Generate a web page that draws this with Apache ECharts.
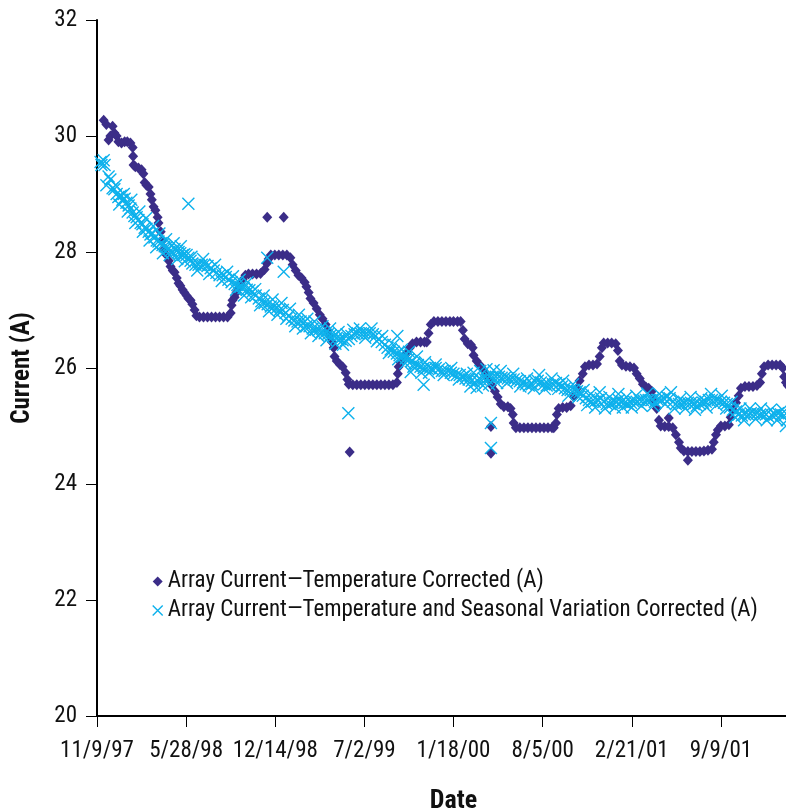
<!DOCTYPE html>
<html>
<head>
<meta charset="utf-8">
<script src="https://cdn.jsdelivr.net/npm/echarts@6/dist/echarts.min.js"></script>
<style>
  html, body { margin: 0; padding: 0; background: #fff; overflow: hidden; }
  /* the date axis runs on past the right edge of the page */
  #chart { width: 810px; height: 810px; }
</style>
</head>
<body>
<div id="chart"></div>
<script>
// Day 0 of the date axis is 11/9/97; x values are days since then.
const startDateUTC = Date.UTC(1997, 10, 9);
const dateTickStepDays = 200;
const dateAxisMaxDays = 1600;
const currentTicks = [20, 22, 24, 26, 28, 30, 32];

const seriesNames = [
  'Array Current\u2014Temperature Corrected (A)',
  'Array Current\u2014Temperature and Seasonal Variation Corrected (A)'
];

// [days since 11/9/97, current in A]
const tempCorrected = [
  [15,30.27],[21,30.2],[26,29.93],[30,30.0],[35,30.17],[39,30.05],[44,30.0],[48,29.9],[55,29.88],[62,29.9],
  [68,29.9],[75,29.88],[80,29.8],[81,29.65],[82,29.5],[86,29.47],[93,29.45],[100,29.42],[104,29.35],[107,29.2],
  [111,29.15],[116,29.12],[120,29.0],[123,28.9],[127,28.78],[131,28.72],[136,28.6],[138,28.5],[143,28.35],[147,28.2],
  [152,28.05],[156,27.95],[161,27.85],[165,27.75],[170,27.68],[174,27.65],[179,27.55],[183,27.46],[187,27.42],[192,27.35],
  [196,27.3],[201,27.25],[205,27.2],[210,27.17],[214,27.1],[219,27.0],[223,26.9],[230,26.88],[239,26.88],[248,26.88],
  [257,26.88],[266,26.88],[275,26.88],[284,26.88],[293,26.88],[300,26.95],[302,27.08],[304,27.17],[309,27.22],[313,27.3],
  [318,27.38],[322,27.45],[327,27.52],[333,27.6],[340,27.62],[349,27.62],[358,27.62],[367,27.63],[376,27.7],[381,27.8],
  [385,27.88],[390,27.95],[399,27.95],[408,27.95],[417,27.95],[426,27.95],[434,27.9],[439,27.78],[446,27.68],[452,27.6],
  [459,27.55],[466,27.48],[470,27.4],[475,27.3],[479,27.2],[486,27.12],[493,27.02],[500,26.92],[506,26.85],[513,26.75],
  [518,26.65],[522,26.55],[527,26.45],[531,26.35],[533,26.2],[538,26.12],[545,26.06],[551,26.02],[558,25.92],[562,25.8],
  [565,25.72],[574,25.71],[583,25.71],[592,25.71],[601,25.71],[610,25.71],[619,25.71],[628,25.71],[637,25.71],[646,25.71],
  [655,25.71],[664,25.71],[673,25.75],[675,25.9],[677,26.02],[681,26.1],[688,26.18],[695,26.25],[702,26.35],[708,26.42],
  [717,26.45],[726,26.45],[735,26.45],[740,26.45],[744,26.6],[749,26.75],[756,26.8],[765,26.8],[774,26.8],[783,26.8],
  [792,26.8],[800,26.8],[809,26.8],[816,26.8],[821,26.65],[825,26.5],[832,26.42],[839,26.4],[843,26.35],[845,26.22],
  [852,26.12],[859,26.05],[866,25.98],[872,25.9],[879,25.8],[886,25.7],[893,25.6],[899,25.5],[906,25.38],[913,25.33],
  [922,25.33],[928,25.3],[933,25.2],[935,25.05],[940,24.97],[949,24.97],[958,24.97],[967,24.97],[976,24.97],[985,24.97],
  [994,24.97],[1003,24.97],[1012,24.97],[1021,24.97],[1025,24.97],[1030,25.05],[1032,25.2],[1036,25.3],[1045,25.32],[1054,25.32],
  [1063,25.35],[1070,25.5],[1077,25.65],[1083,25.78],[1090,25.9],[1095,26.02],[1104,26.05],[1113,26.05],[1122,26.07],[1128,26.2],
  [1133,26.35],[1137,26.43],[1146,26.43],[1155,26.43],[1164,26.42],[1169,26.3],[1173,26.12],[1178,26.05],[1187,26.03],[1196,26.02],
  [1205,26.0],[1211,25.9],[1218,25.82],[1225,25.72],[1232,25.67],[1238,25.65],[1245,25.6],[1250,25.45],[1256,25.3],[1261,25.1],
  [1265,25.0],[1274,24.99],[1283,24.99],[1292,24.97],[1299,24.85],[1306,24.72],[1310,24.62],[1317,24.57],[1326,24.56],[1335,24.56],
  [1344,24.56],[1353,24.56],[1362,24.57],[1371,24.58],[1380,24.6],[1384,24.72],[1389,24.85],[1393,24.93],[1400,25.0],[1409,25.0],
  [1418,25.02],[1422,25.15],[1427,25.28],[1434,25.4],[1440,25.52],[1445,25.65],[1454,25.68],[1463,25.68],[1472,25.68],[1481,25.7],
  [1488,25.75],[1492,25.9],[1497,26.02],[1506,26.05],[1515,26.05],[1524,26.05],[1533,26.05],[1539,26.0],[1542,25.85],[1546,25.75],
  [1550,25.7],
  // stray readings
  [382,28.6],[419,28.6],[567,24.55],[884,24.99],[884,24.53],[1283,25.14],[1326,24.41]
];

const tempSeasonCorrected = [
  [8,29.55],[10,29.5],[15,29.58],[17,29.5],[21,29.15],[26,29.3],[30,29.25],[35,29.1],[39,29.08],[44,29.0],
  [48,28.95],[53,28.97],[57,28.9],[62,28.92],[66,28.85],[71,28.8],[75,28.75],[80,28.68],[84,28.62],[89,28.6],
  [93,28.55],[98,28.5],[102,28.48],[107,28.42],[111,28.4],[116,28.35],[120,28.3],[125,28.32],[129,28.25],[134,28.2],
  [138,28.18],[143,28.15],[147,28.12],[152,28.1],[156,28.08],[161,28.05],[165,28.02],[170,28.0],[174,28.05],[179,28.02],
  [183,28.0],[187,27.98],[192,27.95],[196,27.96],[201,27.95],[205,27.9],[210,27.85],[214,27.8],[221,27.78],[228,27.78],
  [235,27.78],[241,27.78],[248,27.76],[255,27.72],[262,27.68],[268,27.64],[275,27.6],[282,27.6],[289,27.57],[295,27.52],
  [302,27.48],[309,27.45],[315,27.43],[322,27.4],[329,27.38],[336,27.35],[342,27.34],[349,27.32],[356,27.25],[363,27.2],
  [369,27.15],[376,27.12],[383,27.1],[390,27.06],[396,27.05],[403,27.03],[410,27.0],[417,27.0],[423,26.95],[430,26.9],
  [437,26.85],[443,26.82],[450,26.8],[457,26.8],[464,26.78],[470,26.72],[477,26.72],[484,26.68],[491,26.66],[497,26.65],
  [504,26.62],[511,26.6],[518,26.58],[524,26.56],[531,26.55],[538,26.52],[545,26.5],[551,26.48],[558,26.47],[565,26.5],
  [571,26.55],[578,26.58],[585,26.6],[592,26.6],[598,26.6],[605,26.6],[612,26.6],[619,26.58],[625,26.55],[632,26.5],
  [639,26.45],[646,26.4],[652,26.35],[659,26.32],[666,26.28],[673,26.25],[679,26.22],[686,26.2],[693,26.17],[699,26.15],
  [706,26.12],[713,26.08],[720,26.05],[726,26.02],[733,26.0],[740,26.0],[747,26.0],[753,25.98],[760,26.0],[767,25.98],
  [774,25.95],[780,25.95],[787,25.95],[794,25.92],[800,25.9],[807,25.88],[814,25.88],[821,25.85],[827,25.82],[834,25.8],
  [841,25.78],[848,25.75],[854,25.78],[861,25.8],[868,25.82],[875,25.82],[881,25.85],[888,25.85],[895,25.85],[902,25.85],
  [908,25.83],[915,25.83],[922,25.82],[928,25.8],[935,25.8],[942,25.78],[949,25.77],[956,25.75],[962,25.72],[969,25.7],
  [976,25.72],[982,25.78],[989,25.78],[996,25.75],[1003,25.72],[1009,25.7],[1016,25.7],[1023,25.72],[1030,25.74],[1036,25.72],
  [1043,25.68],[1050,25.65],[1056,25.62],[1063,25.62],[1070,25.62],[1077,25.6],[1083,25.58],[1090,25.52],[1097,25.48],[1104,25.45],
  [1110,25.42],[1117,25.42],[1124,25.45],[1131,25.48],[1137,25.42],[1144,25.38],[1151,25.38],[1157,25.4],[1164,25.42],[1171,25.45],
  [1178,25.42],[1184,25.4],[1191,25.38],[1198,25.4],[1205,25.42],[1211,25.42],[1218,25.45],[1225,25.45],[1232,25.45],[1238,25.45],
  [1245,25.45],[1252,25.42],[1259,25.45],[1265,25.45],[1272,25.48],[1279,25.5],[1285,25.48],[1292,25.42],[1299,25.38],[1306,25.38],
  [1312,25.38],[1319,25.4],[1326,25.4],[1333,25.4],[1339,25.38],[1346,25.35],[1353,25.38],[1360,25.4],[1366,25.42],[1373,25.45],
  [1380,25.45],[1387,25.45],[1393,25.45],[1400,25.42],[1407,25.4],[1413,25.38],[1420,25.32],[1427,25.28],[1434,25.25],[1440,25.2],
  [1447,25.18],[1454,25.2],[1461,25.2],[1467,25.22],[1474,25.22],[1481,25.22],[1488,25.2],[1494,25.2],[1501,25.2],[1508,25.15],
  [1515,25.18],[1521,25.2],[1528,25.22],[1535,25.2],[1542,25.18],[1548,25.1],
  // day-to-day spread above and below the trend
  [42,29.15],[50,28.82],[60,29.0],[69,28.7],[77,28.9],[86,28.5],[95,28.7],[103,28.35],[110,28.58],[118,28.2],
  [126,28.45],[133,28.08],[140,28.32],[148,27.98],[155,28.22],[163,27.95],[172,28.15],[180,27.88],[188,28.1],[197,27.84],
  [212,27.92],[225,27.68],[238,27.88],[252,27.62],[265,27.78],[280,27.5],[292,27.66],
  [305,27.58],[312,27.35],[320,27.52],[330,27.25],[338,27.48],[346,27.22],[355,27.36],[366,27.08],[374,27.25],[386,26.98],
  [394,27.18],[405,26.92],[414,27.12],[425,26.85],[433,27.02],[445,26.72],[453,26.92],[462,26.68],[472,26.85],[480,26.6],
  [488,26.8],[497,26.55],[506,26.72],[515,26.48],[523,26.68],[535,26.42],[542,26.62],[552,26.4],[560,26.58],
  [575,26.66],[590,26.68],[602,26.52],[616,26.68],[628,26.46],[640,26.55],[655,26.26],
  [665,26.4],[676,26.15],[684,26.32],[692,26.08],[700,26.28],[710,26.02],[718,26.2],[728,25.92],[736,26.1],[745,25.92],
  [760,26.06],[778,25.88],[795,26.0],[812,25.8],[830,25.9],
  [838,25.68],[845,25.92],[852,25.66],[860,25.95],[866,25.7],[874,25.98],[880,25.72],[890,25.96],[898,25.74],[906,25.95],
  [920,25.74],[934,25.9],[950,25.68],[965,25.82],[980,25.65],[992,25.88],[1005,25.64],[1020,25.82],[1035,25.64],
  [1046,25.78],[1058,25.52],[1068,25.72],[1080,25.5],[1092,25.62],[1100,25.36],[1108,25.55],[1118,25.32],[1128,25.58],[1140,25.3],
  [1150,25.5],[1162,25.32],[1170,25.55],[1180,25.32],
  [1188,25.5],[1200,25.32],[1210,25.52],[1222,25.35],[1235,25.56],[1248,25.35],[1262,25.55],[1275,25.38],[1288,25.58],[1296,25.3],
  [1308,25.46],[1320,25.3],[1332,25.5],[1342,25.28],[1356,25.48],[1368,25.32],[1378,25.55],[1390,25.36],[1402,25.52],[1412,25.3],
  [1424,25.42],[1432,25.15],[1444,25.3],[1452,25.1],[1465,25.3],[1478,25.12],[1490,25.3],[1503,25.1],[1512,25.28],[1526,25.1],
  [1538,25.28],[1546,25.0],
  // stray readings
  [205,28.83],[382,27.9],[419,27.66],[564,25.22],[674,26.55],[704,25.93],[733,25.71],[884,25.05],[884,24.62]
];

const darkColor = '#3b2d88';
const lightColor = '#0db1ec';
const crossPath = 'path://M0,0L10,10M10,0L0,10';
const fontFamily = "'Roboto Condensed', 'Liberation Sans', sans-serif";

function formatDate(days) {
  const d = new Date(startDateUTC + days * 86400000);
  const yy = String(d.getUTCFullYear() % 100).padStart(2, '0');
  return (d.getUTCMonth() + 1) + '/' + d.getUTCDate() + '/' + yy;
}

const chart = echarts.init(document.getElementById('chart'), null, { renderer: 'canvas' });

chart.setOption({
  animation: false,
  backgroundColor: '#ffffff',
  textStyle: { fontFamily: fontFamily },
  grid: { left: 97, top: 20, right: 0, bottom: 94, containLabel: false, outerBoundsMode: 'none' },
  legend: {
    orient: 'vertical',
    left: 147,
    top: 565,
    itemWidth: 10,
    itemHeight: 10,
    itemGap: 6,
    textStyle: { fontSize: 23, color: '#111', fontFamily: fontFamily },
    data: [
      { name: seriesNames[0], icon: 'diamond', itemStyle: { color: darkColor, borderWidth: 0 } },
      { name: seriesNames[1], icon: crossPath, itemStyle: { color: lightColor, borderColor: lightColor, borderWidth: 1.4 } }
    ]
  },
  xAxis: {
    type: 'value',
    min: 0,
    max: dateAxisMaxDays,
    interval: dateTickStepDays,
    name: 'Date',
    nameLocation: 'middle',
    nameGap: 72,
    nameTextStyle: { fontSize: 26, fontWeight: 'bold', color: '#111', fontFamily: fontFamily },
    axisLine: { show: true, onZero: false, lineStyle: { color: '#000', width: 2 } },
    axisTick: { show: true, length: 11, lineStyle: { color: '#000', width: 1 } },
    axisLabel: {
      margin: 24, fontSize: 23, color: '#111', fontFamily: fontFamily,
      showMaxLabel: false,
      formatter: v => formatDate(v)
    },
    splitLine: { show: false }
  },
  yAxis: {
    type: 'value',
    min: currentTicks[0],
    max: currentTicks[currentTicks.length - 1],
    interval: 2,
    name: 'Current (A)',
    nameLocation: 'middle',
    nameGap: 62,
    nameRotate: 90,
    nameTextStyle: { fontSize: 25, fontWeight: 'bold', color: '#111', fontFamily: fontFamily },
    axisLine: { show: true, lineStyle: { color: '#000', width: 2 } },
    axisTick: { show: true, length: 11, lineStyle: { color: '#000', width: 1 } },
    axisLabel: { margin: 20, fontSize: 23, color: '#111', fontFamily: fontFamily },
    splitLine: { show: false }
  },
  series: [
    {
      name: seriesNames[0],
      type: 'scatter',
      data: tempCorrected,
      symbol: 'diamond',
      symbolSize: [10, 11],
      itemStyle: { color: darkColor, opacity: 1 },
      emphasis: { disabled: true }
    },
    {
      name: seriesNames[1],
      type: 'scatter',
      data: tempSeasonCorrected,
      symbol: crossPath,
      symbolSize: 12,
      itemStyle: { color: lightColor, borderColor: lightColor, borderWidth: 1.4, opacity: 1 },
      emphasis: { disabled: true }
    }
  ]
});
</script>
</body>
</html>
